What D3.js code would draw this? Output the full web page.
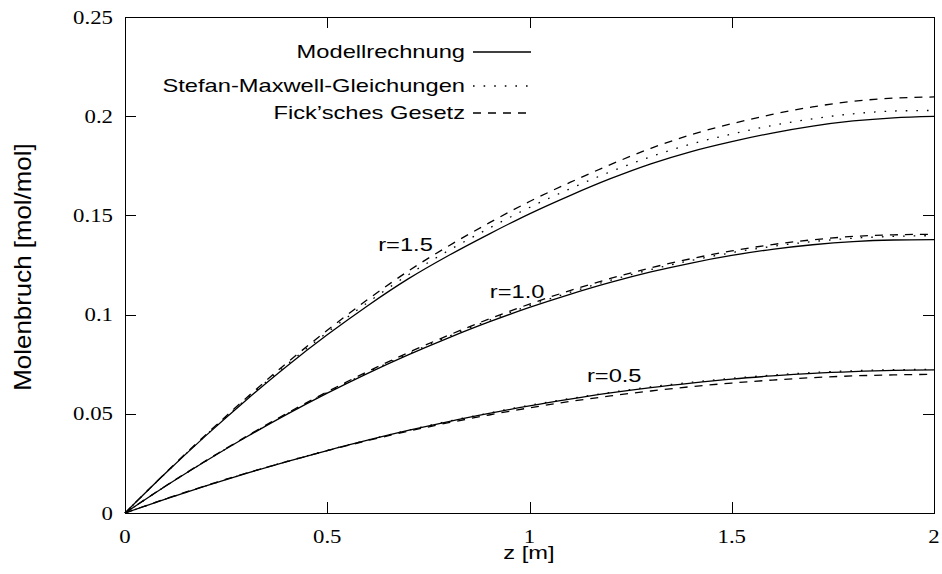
<!DOCTYPE html>
<html lang="de">
  <head>
    <meta charset="UTF-8" />
    <title>Molenbruch über z</title>
    <script src="https://cdnjs.cloudflare.com/ajax/libs/d3/7.8.5/d3.min.js"></script>
    <style>
      body {
        margin: 0;
        background: #fff;
      }
      .tick-label {
        font-family: 'Liberation Serif', 'Times New Roman', serif;
        font-size: 19px;
        fill: #000;
      }
      .sans {
        font-family: 'Liberation Sans', Arial, Helvetica, sans-serif;
        font-size: 18.5px;
        fill: #000;
      }
      .curve {
        fill: none;
        stroke: #000;
        stroke-width: 1.3px;
      }
    </style>
  </head>
  <body>
    <svg width="942" height="574"></svg>
    <script>
      // z positions of the computed points [m]
      const zValues = [0, 0.1, 0.2, 0.3, 0.4, 0.5, 0.6, 0.7, 0.8, 0.9, 1.0,
        1.1, 1.2, 1.3, 1.4, 1.5, 1.6, 1.7, 1.8, 1.9, 2.0];

      // r = 1.5
      const modell15 = [0, 0.0200, 0.0390, 0.0570, 0.0740, 0.0898, 0.1045, 0.1180, 0.1298, 0.1406, 0.1508,
        0.1600, 0.1685, 0.1760, 0.1822, 0.1872, 0.1915, 0.1950, 0.1976, 0.1992, 0.1999];
      const stefan15 = [0, 0.0200, 0.0392, 0.0575, 0.0748, 0.0910, 0.1061, 0.1200, 0.1323, 0.1435, 0.1540,
        0.1634, 0.1720, 0.1796, 0.1860, 0.1910, 0.1953, 0.1987, 0.2012, 0.2026, 0.2029];
      const fick15 = [0, 0.0202, 0.0395, 0.0580, 0.0756, 0.0921, 0.1076, 0.1219, 0.1346, 0.1462, 0.1570,
        0.1666, 0.1756, 0.1838, 0.1907, 0.1962, 0.2009, 0.2047, 0.2075, 0.2091, 0.2097];

      // r = 1.0
      const modell10 = [0, 0.0135, 0.0262, 0.0383, 0.0497, 0.0604, 0.0704, 0.0797, 0.0883, 0.0963, 0.1036,
        0.1102, 0.1162, 0.1215, 0.1260, 0.1298, 0.1329, 0.1352, 0.1368, 0.1376, 0.1378];
      const stefan10 = [0, 0.0135, 0.0262, 0.0384, 0.0499, 0.0607, 0.0708, 0.0802, 0.0890, 0.0971, 0.1045,
        0.1112, 0.1173, 0.1227, 0.1273, 0.1312, 0.1344, 0.1368, 0.1385, 0.1394, 0.1398];
      const fick10 = [0, 0.0136, 0.0264, 0.0386, 0.0502, 0.0611, 0.0713, 0.0808, 0.0896, 0.0978, 0.1053,
        0.1121, 0.1182, 0.1236, 0.1282, 0.1321, 0.1353, 0.1377, 0.1394, 0.1402, 0.1405];

      // r = 0.5
      const modell05 = [0, 0.0070, 0.0137, 0.0200, 0.0259, 0.0315, 0.0367, 0.0416, 0.0461, 0.0502, 0.0540,
        0.0574, 0.0605, 0.0632, 0.0655, 0.0675, 0.0691, 0.0704, 0.0713, 0.0719, 0.0721];
      const stefan05 = [0, 0.0070, 0.0137, 0.0200, 0.0260, 0.0316, 0.0368, 0.0417, 0.0463, 0.0504, 0.0543,
        0.0577, 0.0608, 0.0636, 0.0659, 0.0679, 0.0695, 0.0708, 0.0717, 0.0722, 0.0724];
      const fick05 = [0, 0.0071, 0.0138, 0.0201, 0.0259, 0.0314, 0.0365, 0.0412, 0.0455, 0.0494, 0.0530,
        0.0562, 0.0590, 0.0615, 0.0637, 0.0655, 0.0670, 0.0682, 0.0691, 0.0696, 0.0699];

      const xTicks = [0, 0.5, 1, 1.5, 2];
      const yTicks = [0, 0.05, 0.1, 0.15, 0.2, 0.25];

      const legendNames = ['Modellrechnung', 'Stefan-Maxwell-Gleichungen', 'Fick’sches Gesetz'];
      const legendBaselines = [58, 92, 119];
      const curveLabels = [
        { text: 'r=1.5', z: 0.626, v: 0.1322 },
        { text: 'r=1.0', z: 0.902, v: 0.1084 },
        { text: 'r=0.5', z: 1.142, v: 0.0662 },
      ];

      const dashes = [null, '1.6,9', '8,7'];
      const series = [
        [modell15, stefan15, fick15],
        [modell10, stefan10, fick10],
        [modell05, stefan05, fick05],
      ];

      const svg = d3.select('svg');
      const plotL = 125, plotR = 934, plotT = 17, plotB = 513;
      const sx = 1.28; // horizontal stretch of the lettering
      const tickLen = 11;

      const x = d3.scaleLinear().domain([0, 2]).range([plotL, plotR]);
      const y = d3.scaleLinear().domain([0, 0.25]).range([plotB, plotT]);

      // stretched text helper
      function label(px, py, str, cls, anchor, stretch, dy) {
        svg.append('g')
          .attr('transform', `translate(${px},${py}) scale(${stretch},1)`)
          .append('text')
          .attr('class', cls)
          .attr('text-anchor', anchor)
          .attr('dy', dy || null)
          .text(str);
      }

      // ticks on all four sides, pointing inward
      const ticks = svg.append('g').attr('stroke', '#000').attr('stroke-width', 1);
      yTicks.forEach(t => {
        const py = Math.round(y(t)) + 0.5;
        ticks.append('line').attr('x1', plotL).attr('x2', plotL + tickLen).attr('y1', py).attr('y2', py);
        ticks.append('line').attr('x1', plotR - tickLen).attr('x2', plotR).attr('y1', py).attr('y2', py);
        label(113, y(t), d3.format('~g')(t), 'tick-label', 'end', 1.2, '0.35em');
      });
      xTicks.forEach(t => {
        const px = Math.round(x(t)) + 0.5;
        ticks.append('line').attr('x1', px).attr('x2', px).attr('y1', plotB).attr('y2', plotB - tickLen);
        ticks.append('line').attr('x1', px).attr('x2', px).attr('y1', plotT).attr('y2', plotT + tickLen);
        label(x(t), 543, d3.format('~g')(t), 'tick-label', 'middle', 1.2);
      });

      // curves
      const line = d3.line()
        .x((d, i) => x(zValues[i]))
        .y(d => y(d))
        .curve(d3.curveMonotoneX);

      series.forEach(group => {
        group.forEach((vals, k) => {
          svg.append('path')
            .attr('class', 'curve')
            .attr('d', line(vals))
            .attr('stroke-dasharray', dashes[k]);
        });
      });

      // frame
      svg.append('rect')
        .attr('x', plotL + 0.5).attr('y', plotT + 0.5)
        .attr('width', plotR - plotL).attr('height', plotB - plotT)
        .attr('fill', 'none').attr('stroke', '#000').attr('stroke-width', 1);

      // curve labels
      curveLabels.forEach(l => label(x(l.z), y(l.v), l.text, 'sans', 'start', sx));

      // legend
      legendNames.forEach((name, k) => {
        const base = legendBaselines[k];
        label(465, base, name, 'sans', 'end', sx);
        svg.append('line')
          .attr('class', 'curve')
          .attr('x1', 473).attr('x2', 531)
          .attr('y1', base - 6).attr('y2', base - 6)
          .attr('stroke-dasharray', dashes[k]);
      });

      // axis titles
      label(529, 559, 'z [m]', 'sans', 'middle', sx);
      svg.append('g')
        .attr('transform', `translate(31,${(plotT + plotB) / 2 + 2}) scale(${sx},1) rotate(-90) scale(1.4,1)`)
        .append('text')
        .attr('class', 'sans')
        .attr('text-anchor', 'middle')
        .text('Molenbruch [mol/mol]');
    </script>
  </body>
</html>
